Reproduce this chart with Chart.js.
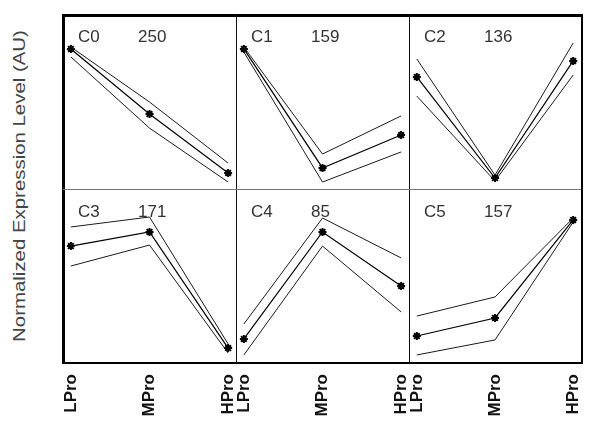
<!DOCTYPE html>
<html>
<head>
<meta charset="utf-8">
<script src="https://cdn.jsdelivr.net/npm/chart.js@4"></script>
<style>
  html, body { margin: 0; padding: 0; background: #fff; }
  body { width: 600px; height: 434px; position: relative; overflow: hidden; font-family: "Liberation Sans", Arial, sans-serif; }
  canvas { position: absolute; }
  .frame { position: absolute; left: 62px; top: 14px; width: 516px; height: 345px;
           border-left: 3px solid #000; border-top: 3px solid #000; border-right: 2px solid #000; border-bottom: 2px solid #000; }
  .vline { position: absolute; top: 15px; width: 1px; height: 347px; background: #111; }
  .hline { position: absolute; left: 63px; top: 189px; width: 518px; height: 1px; background: #777; }
  .ytitle { position: absolute; left: 20px; top: 186px; transform: translate(-50%, -50%) rotate(-90deg) scaleX(1.2);
            white-space: nowrap; font-size: 17px; color: #444; }
</style>
</head>
<body>
<div class="ytitle">Normalized Expression Level (AU)</div>
<div id="panels"></div>
<div class="frame"></div>
<div class="vline" style="left:236px"></div>
<div class="vline" style="left:409px"></div>
<div class="hline"></div>
<script>
const categories = ['LPro', 'MPro', 'HPro'];
const clusterNames = ['C0', 'C1', 'C2', 'C3', 'C4', 'C5'];
const geneCounts = [250, 159, 136, 171, 85, 157];

// cluster mean profile and the upper / lower band
const meanVals = [
  [80.5, 43.1, 9.2],
  [80.5, 12.1, 31.0],
  [64.4, 6.3, 73.6],
  [67.4, 75.6, 8.1],
  [13.4, 75.6, 44.2],
  [15.1, 25.6, 82.6]
];
const upperVals = [
  [81.6, 50.0, 14.9],
  [81.6, 20.1, 42.0],
  [74.7, 8.0, 83.9],
  [78.5, 84.3, 10.5],
  [22.1, 83.7, 60.5],
  [26.7, 37.8, 83.7]
];
const lowerVals = [
  [75.9, 35.0, 4.0],
  [78.7, 4.0, 21.3],
  [53.4, 4.6, 65.5],
  [55.8, 68.0, 5.2],
  [4.1, 67.4, 29.1],
  [4.1, 12.8, 81.4]
];

const colLeft = [63, 236, 409];
const colWidth = [173, 173, 172];
const rowTop = [15, 190];
const rowHeight = [174, 172];
const labelSpace = 62;

const panelText = {
  id: 'panelText',
  afterDatasetsDraw(chart, args, opts) {
    const { ctx, chartArea } = chart;
    ctx.save();
    ctx.fillStyle = '#333';
    ctx.font = '17px "Liberation Sans", Arial, sans-serif';
    ctx.textBaseline = 'alphabetic';
    ctx.fillText(opts.name, chartArea.left + 15, chartArea.top + 27);
    ctx.fillText(String(opts.count), chartArea.left + 75, chartArea.top + 27);
    ctx.restore();
  }
};

const toPoints = vals => vals.map((v, i) => ({ x: i, y: v }));

const holder = document.getElementById('panels');
for (let k = 0; k < 6; k++) {
  const row = Math.floor(k / 3), col = k % 3;
  const bottom = row === 1;
  const cv = document.createElement('canvas');
  const h = rowHeight[row] + (bottom ? labelSpace : 0);
  cv.width = colWidth[col];
  cv.height = h;
  cv.style.left = colLeft[col] + 'px';
  cv.style.top = rowTop[row] + 'px';
  cv.style.width = colWidth[col] + 'px';
  cv.style.height = h + 'px';
  holder.appendChild(cv);

  new Chart(cv.getContext('2d'), {
    type: 'line',
    data: {
      datasets: [
        {
          data: toPoints(upperVals[k]),
          borderColor: '#1a1a1a', borderWidth: 1, pointRadius: 0
        },
        {
          data: toPoints(meanVals[k]),
          borderColor: '#000', borderWidth: 1.2,
          pointStyle: 'star', pointRadius: 4, pointBorderWidth: 2,
          pointBorderColor: '#000', pointBackgroundColor: '#000'
        },
        {
          data: toPoints(lowerVals[k]),
          borderColor: '#1a1a1a', borderWidth: 1, pointRadius: 0
        }
      ]
    },
    plugins: [panelText],
    options: {
      responsive: false,
      animation: false,
      layout: { padding: 0, autoPadding: false },
      plugins: {
        legend: { display: false },
        tooltip: { enabled: false },
        panelText: { name: clusterNames[k], count: geneCounts[k] }
      },
      scales: {
        x: {
          type: 'linear',
          min: -0.1,
          max: 2.1,
          display: bottom,
          grid: { display: false },
          border: { display: false },
          afterBuildTicks: s => { s.ticks = [0, 1, 2].map(v => ({ value: v })); },
          afterFit: s => {
            if (!bottom) return;
            s.height = labelSpace; s.paddingLeft = 0; s.paddingRight = 0;
          },
          ticks: {
            callback: v => categories[v],
            minRotation: 90,
            maxRotation: 90,
            padding: 4,
            color: '#111',
            font: { family: '"Liberation Sans", Arial, sans-serif', size: 17, weight: 'bold' }
          }
        },
        y: { display: false, min: 0, max: 100 }
      }
    }
  });
}
</script>
</body>
</html>
